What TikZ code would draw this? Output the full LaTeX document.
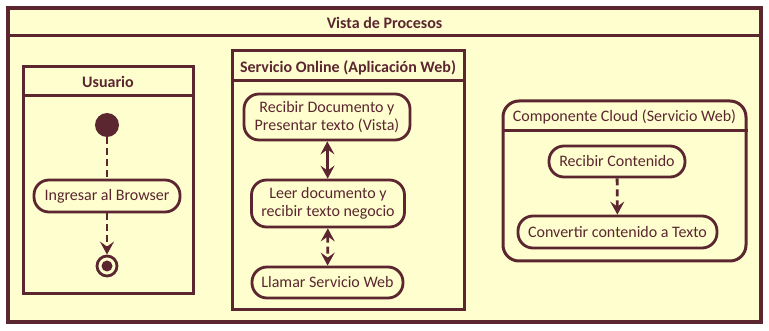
\documentclass[tikz,border=0pt]{standalone}
\usepackage{fontspec}
\setmainfont{Carlito}
\usetikzlibrary{arrows.meta}
\definecolor{ink}{HTML}{5B2630}
\definecolor{paper}{HTML}{FEFECE}
\tikzset{
  frame/.style={draw=ink, fill=paper, line width=3.2pt, inner sep=0pt},
  lane/.style={draw=ink, fill=paper, line width=3pt, inner sep=0pt},
  act/.style={draw=ink, fill=paper, line width=2.8pt, rounded corners=15pt,
    align=center, text=ink, font=\fontsize{16}{17.5}\selectfont, inner sep=2pt},
  title/.style={text=ink, font=\bfseries\fontsize{16}{18}\selectfont},
  ctitle/.style={text=ink, font=\fontsize{16}{18}\selectfont},
  flow/.style={draw=ink, line width=2.8pt, dash pattern=on 7pt off 4pt},
  tip/.style={-{Stealth[length=13pt,width=14pt,inset=5pt]}},
  both/.style={{Stealth[length=13pt,width=14pt,inset=5pt]}-{Stealth[length=13pt,width=14pt,inset=5pt]}},
}
\begin{document}
\begin{tikzpicture}[x=1pt,y=-1pt]
\useasboundingbox (0,0) rectangle (769,331);
\fill[white] (0,0) rectangle (769,331);

% outer frame with title band
\node[frame, minimum width=753pt, minimum height=314pt] (outer) at (384.5,165) {};
\draw[draw=ink, line width=3.2pt] ([yshift=-29pt]outer.north west) -- ([yshift=-29pt]outer.north east);
\node[title] (outert) at (384.5,22.5) {Vista de Procesos};

% lane: Usuario
\node[lane, minimum width=170pt, minimum height=227pt] (usr) at (108,180.5) {};
\draw[draw=ink, line width=3pt] ([yshift=-30pt]usr.north west) -- ([yshift=-30pt]usr.north east);
\node[title] (usrt) at (108,82) {Usuario};
\node[circle, fill=ink, minimum size=24pt, inner sep=0pt] (start) at (107,125) {};
\node[act, minimum width=146pt, minimum height=32pt] (browser) at (107,196) {Ingresar al Browser};
\node[circle, draw=ink, line width=2.8pt, fill=paper, minimum size=20pt, inner sep=0pt] (stop) at (107,266) {};
\node[circle, fill=ink, minimum size=11pt, inner sep=0pt] (stopdot) at (107,266) {};
\draw[flow] (start) -- (browser);
\draw[flow, tip] (browser) -- (stop);

% lane: Servicio Online
\node[lane, minimum width=232pt, minimum height=259pt] (web) at (348,180.5) {};
\draw[draw=ink, line width=3pt] ([yshift=-31pt]web.north west) -- ([yshift=-31pt]web.north east);
\node[title] (webt) at (348,67.5) {Servicio Online (Aplicación Web)};
\node[act, minimum width=166pt, minimum height=46pt] (recdoc) at (327,117) {Recibir Documento y\\Presentar texto (Vista)};
\node[act, minimum width=153pt, minimum height=47pt] (leer) at (328,203.5) {Leer documento y\\recibir texto negocio};
\node[act, minimum width=151pt, minimum height=31pt] (llamar) at (327.5,282.5) {Llamar Servicio Web};
\draw[draw=ink, line width=2.8pt, both] (recdoc) -- (leer);
\draw[flow, both] (leer) -- (llamar);

% component: Cloud
\node[lane, rounded corners=16pt, minimum width=243pt, minimum height=160pt] (cloud) at (624.5,181) {};
\draw[draw=ink, line width=3pt] ([yshift=-31pt]cloud.north west) -- ([yshift=-31pt]cloud.north east);
\node[ctitle] (cloudt) at (624.5,117) {Componente Cloud (Servicio Web)};
\node[act, minimum width=136pt, minimum height=31pt] (recibir) at (617,161.5) {Recibir Contenido};
\node[act, minimum width=199pt, minimum height=32pt] (convertir) at (617.5,232) {Convertir contenido a Texto};
\draw[flow, tip] (recibir) -- (convertir);
\end{tikzpicture}
\end{document}
